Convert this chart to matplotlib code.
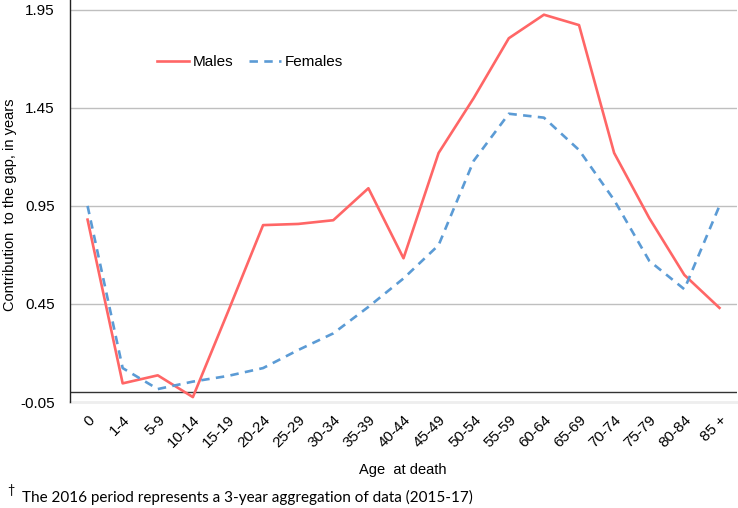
import matplotlib
matplotlib.use("Agg")
import matplotlib.pyplot as plt

ages = ["0", "1-4", "5-9", "10-14", "15-19", "20-24", "25-29", "30-34", "35-39",
        "40-44", "45-49", "50-54", "55-59", "60-64", "65-69", "70-74", "75-79",
        "80-84", "85 +"]
males = [0.88, 0.045, 0.086, -0.025, 0.41, 0.852, 0.858, 0.877, 1.04, 0.683,
         1.22, 1.50, 1.805, 1.925, 1.872, 1.22, 0.888, 0.598, 0.43]
females = [0.95, 0.123, 0.016, 0.054, 0.083, 0.123, 0.215, 0.30, 0.435, 0.58,
           0.75, 1.18, 1.42, 1.40, 1.235, 0.98, 0.67, 0.525, 0.95]
yticks = [-0.05, 0.45, 0.95, 1.45, 1.95]

plt.rcParams['font.family'] = ['Liberation Sans', 'DejaVu Sans']

fig = plt.figure(figsize=(7.38, 5.08), dpi=100)
ax = fig.add_axes([70/738, 1 - 402/508, 667/738, 402/508])

x = list(range(len(ages)))
ax.plot(x, males, color='#FF6666', lw=1.9, label='Males')
ax.plot(x, females, color='#5B9BD5', lw=1.9, dashes=[3.2, 2.4], label='Females')

ax.set_xlim(-0.5, len(ages) - 0.5)
ax.set_ylim(-0.05, 2.0)
ax.set_yticks(yticks)
ax.set_yticklabels([f"{v:.2f}" for v in yticks])
for v in yticks[1:]:
    ax.axhline(v, color='#BFBFBF', lw=1.0, zorder=0)
ax.axhline(0, color='#333333', lw=1.0, zorder=1)
ax.axhline(-0.05, color='#EEEEEE', lw=2, zorder=0, clip_on=False)

ax.set_xticks(x)
ax.set_xticklabels(ages, rotation=45, ha='right', va='top', rotation_mode='anchor')
ax.tick_params(axis='x', length=0, pad=8, labelsize=11)
ax.tick_params(axis='y', length=0, pad=11, labelsize=11)

for s in ['top', 'right', 'bottom']:
    ax.spines[s].set_visible(False)
ax.spines['left'].set_color('#222222')
ax.spines['left'].set_linewidth(1.0)

fig.text(10/738, 1 - 205/508, "Contribution  to the gap, in years", rotation=90,
         ha='center', va='center', fontsize=10.5)
fig.text(403/738, 1 - 470/508, "Age  at death", ha='center', va='center', fontsize=10.5)

ax.legend(loc='center left', bbox_to_anchor=(157/738, 1 - 62/508),
          bbox_transform=fig.transFigure, frameon=False, ncol=2, borderpad=0,
          borderaxespad=0, fontsize=11, handlelength=2.1, columnspacing=1.0,
          handletextpad=0.25)

fig.text(7/738, 1 - 490/508, "\u2020", fontsize=9, family=['Lato', 'DejaVu Sans'], va='center')
fig.text(22/738, 1 - 497/508, "The 2016 period represents a 3-year aggregation of data (2015-17)",
         fontsize=11, family=['Lato', 'DejaVu Sans'], va='center')

fig.savefig("out.png", dpi=100)
